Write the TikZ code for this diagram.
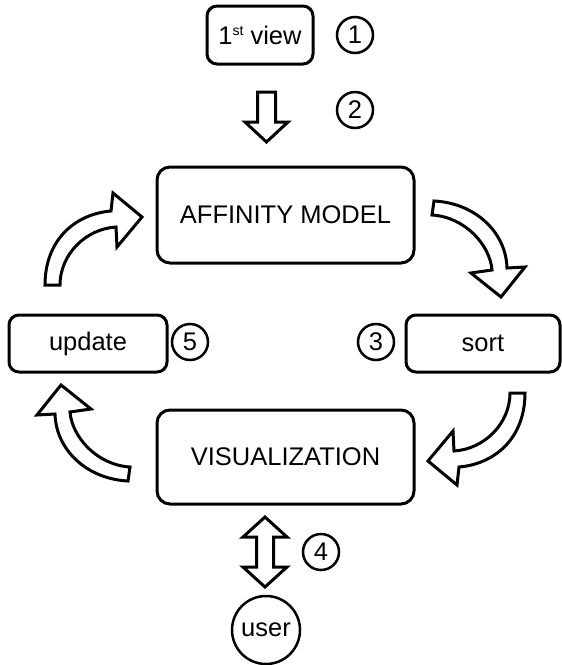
\documentclass[tikz,border=0pt]{standalone}
\usepackage{fontspec}
\setmainfont{Liberation Sans}
\begin{document}
\begin{tikzpicture}[x=1pt,y=-1pt,
  txt/.style={font=\fontsize{25.5}{30}\selectfont},
  box/.style={draw, line width=3pt, rounded corners=13pt, inner sep=0pt, txt},
  num/.style={draw, circle, line width=2.5pt, minimum size=36pt, inner sep=0pt, txt},
  fatarrow/.style={draw, fill=white, line width=3pt, line join=miter}]
\useasboundingbox (0,0) rectangle (562,665);
% boxes
\node[box, rounded corners=10pt, minimum width=106pt, minimum height=58pt] (view) at (260,35) {1\raisebox{9pt}{\fontsize{14}{14}\selectfont st} view};
\node[box, minimum width=257pt, minimum height=96pt] (aff) at (285.5,215) {AFFINITY MODEL};
\node[box, minimum width=257pt, minimum height=94pt] (vis) at (285.5,457) {VISUALIZATION};
\node[box, rounded corners=10pt, minimum width=158pt, minimum height=57pt] (upd) at (88,343.5) {update};
\node[box, rounded corners=10pt, minimum width=154pt, minimum height=57pt] (sort) at (483,343.5) {sort};
\node[draw, circle, line width=2.5pt, minimum size=68pt, inner sep=0pt, txt] (user) at (266,630) {user};
% numbers
\node[num] (n1) at (355,35) {1};
\node[num] (n2) at (355,110) {2};
\node[num] (n3) at (376,342) {3};
\node[num] (n4) at (321,552) {4};
\node[num] (n5) at (190,342) {5};
% straight arrows
\draw[fatarrow] (257.5,92) -- (275.5,92) -- (275.5,122) -- (288,122) -- (266.5,142)
  -- (245,122) -- (257.5,122) -- cycle;
\draw[fatarrow] (265,517) -- (287,537) -- (273.5,537) -- (273.5,567) -- (287,567)
  -- (265,587) -- (243,567) -- (256.5,567) -- (256.5,537) -- (243,537) -- cycle;
% curved arrows
\def\tlarrow{(45,285) .. controls (45,240) and (75,214) .. (111,211) -- (113,193)
  -- (142,217) -- (117,247) -- (116,227) .. controls (85,229) and (60,255) .. (60,285) -- cycle}
\def\trarrow{(434,201) .. controls (475,203) and (506,232) .. (507,268) -- (525,267)
  -- (501,297) -- (471,273) -- (492,270) .. controls (490,245) and (465,217) .. (432,215) -- cycle}
\draw[fatarrow] \tlarrow;
\draw[fatarrow] \trarrow;
\begin{scope}[shift={(570,678)}, scale=-1]
  \draw[fatarrow] \tlarrow;
\end{scope}
\begin{scope}[shift={(562,682)}, scale=-1]
  \draw[fatarrow] \trarrow;
\end{scope}
\end{tikzpicture}
\end{document}
